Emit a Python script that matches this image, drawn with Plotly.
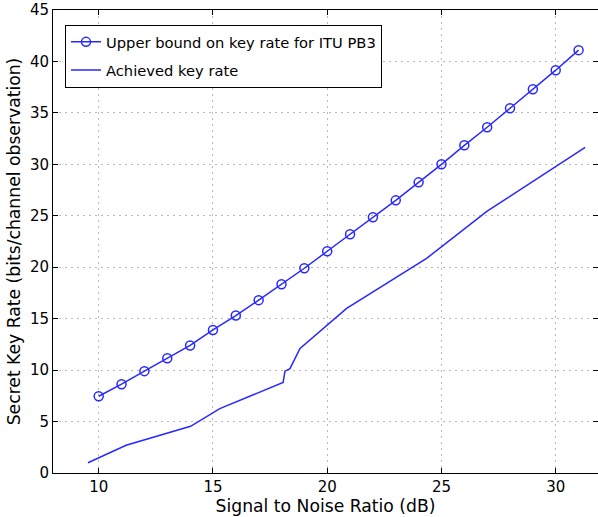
import plotly.graph_objects as go

snr_bound = [10, 11, 12, 13, 14, 15, 16, 17, 18, 19, 20, 21, 22, 23, 24, 25, 26, 27, 28, 29, 30, 31]
upper_bound = [7.46, 8.63, 9.9, 11.16, 12.4, 13.9, 15.3, 16.8, 18.35, 19.9, 21.55, 23.2,
               24.85, 26.5, 28.25, 30.0, 31.85, 33.6, 35.45, 37.3, 39.15, 41.1]

snr_achieved = [9.53, 11.2, 14.02, 15.3, 18.07, 18.15, 18.37, 18.81, 20.85, 24.35, 27.0, 31.29]
achieved = [1.0, 2.69, 4.54, 6.26, 8.8, 9.9, 10.15, 12.1, 16.0, 20.86, 25.45, 31.65]

blue = "rgb(40,40,255)"
font = "DejaVu Sans, sans-serif"

fig = go.Figure()
fig.add_trace(go.Scatter(
    x=snr_bound, y=upper_bound, mode="lines+markers",
    name="Upper bound on key rate for ITU PB3", legendgroup="a",
    line=dict(color=blue, width=1.5),
    marker=dict(symbol="circle-open", size=9, color=blue, line=dict(width=1.5, color=blue)),
))
fig.add_trace(go.Scatter(
    x=snr_achieved, y=achieved, mode="lines",
    name="Achieved key rate", legendgroup="b",
    line=dict(color=blue, width=1.5),
))

axis_common = dict(
    showline=True, linecolor="black", linewidth=1, mirror="ticks",
    ticks="inside", ticklen=5, tickcolor="black",
    showgrid=True, gridcolor="rgb(185,185,185)", griddash="2px,4px", gridwidth=1,
    zeroline=False, tickfont=dict(size=15, color="black", family=font),
    automargin=False, ticklabeloverflow="allow",
)

fig.update_layout(
    width=598, height=517,
    margin=dict(l=53, r=0, t=10, b=44),
    paper_bgcolor="white", plot_bgcolor="white",
    font=dict(family=font, color="black"),
    showlegend=True,
    legend=dict(
        x=0.022, y=0.968, xanchor="left", yanchor="top",
        bordercolor="black", borderwidth=1, bgcolor="white",
        font=dict(size=14.7, family=font, color="black"),
        tracegroupgap=6,
    ),
    xaxis=dict(range=[8, 31.85], tickvals=[10, 15, 20, 25, 30],
               title=dict(text="Signal to Noise Ratio (dB)", font=dict(size=17.2, family=font), standoff=2),
               **axis_common),
    yaxis=dict(range=[0, 45], tickvals=[0, 5, 10, 15, 20, 25, 30, 35, 40, 45],
               title=dict(text="Secret Key Rate (bits/channel observation)", font=dict(size=17.2, family=font), standoff=4),
               **axis_common),
)

fig.write_html("out.html", config={"displayModeBar": False},
               post_script="document.body.style.margin='0px';document.body.style.overflow='hidden';")
